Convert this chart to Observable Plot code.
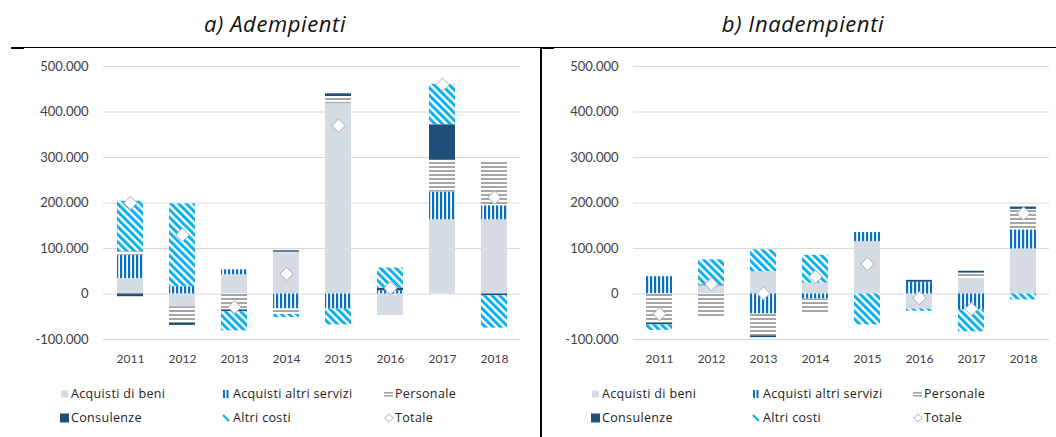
<!DOCTYPE html>
<html>
<head>
<meta charset="utf-8">
<script src="https://cdn.jsdelivr.net/npm/d3@7"></script>
<script src="https://cdn.jsdelivr.net/npm/@observablehq/plot@0.6"></script>
<style>
  html, body { margin: 0; padding: 0; background: #fff; }
  #root { position: relative; width: 1056px; height: 437px; overflow: hidden; font-family: Lato, "Open Sans", sans-serif; color: #404040; }
  .title { position: absolute; top: 8px; font-family: "Open Sans", sans-serif; font-style: italic; font-size: 22px; letter-spacing: 0.6px; color: #111; white-space: nowrap; transform: translateX(-50%); }
  .hline { position: absolute; left: 11px; top: 47px; width: 1045px; height: 1px; background: #000; }
  .vline { position: absolute; left: 540px; top: 47px; width: 1.5px; height: 390px; background: #000; }
  .tick1 { position: absolute; height: 2px; width: 13px; background: #000; top: 47px; }
  .plot { position: absolute; top: 50px; }
  .leg { position: absolute; font-family: "Open Sans", sans-serif; font-size: 12.5px; letter-spacing: 0.35px; color: #222; white-space: nowrap; transform: translateY(-50%); line-height: 1; }
  .sw { position: absolute; line-height: 0; }
  .sw svg { display: block; }
</style>
</head>
<body>
<svg width="0" height="0" style="position:absolute">
  <defs>
    <pattern id="pServizi" patternUnits="userSpaceOnUse" width="4" height="4">
      <rect width="4" height="4" fill="#fff"/>
      <rect x="0" width="2.2" height="4" fill="#0A6EC2"/>
    </pattern>
    <pattern id="pPersonale" patternUnits="userSpaceOnUse" width="4" height="4">
      <rect width="4" height="4" fill="#fff"/>
      <rect y="0" width="4" height="2" fill="#A6A6A6"/>
    </pattern>
    <pattern id="pAltri" patternUnits="userSpaceOnUse" width="5.4" height="5.4" patternTransform="rotate(-45)">
      <rect width="5.4" height="5.4" fill="#fff"/>
      <rect x="0" width="3" height="5.4" fill="#0AB0EE"/>
    </pattern>
  </defs>
</svg>
<div id="root"></div>
<script>
// ---- data ----
const years = ["2011", "2012", "2013", "2014", "2015", "2016", "2017", "2018"];
const seriesNames = ["Acquisti di beni", "Acquisti altri servizi", "Personale", "Consulenze", "Altri costi"];
const totaleName = "Totale";

// a) Adempienti
const adBeni       = [34000, -28000, 42000, 92000, 418000, -45000, 163000, 163000];
const adServizi    = [51000, 16000, 11000, -33000, -33000, 7000, 61000, 31000];
const adPersonale  = [8000, -36000, -35000, -12000, 16000, -1000, 70000, 95000];
const adConsulenze = [-6000, -5000, -4000, 3000, 6000, 6000, 78000, -4000];
const adAltri      = [111000, 182000, -42000, -7000, -35000, 44000, 89000, -71000];
const adTotale     = [200000, 130000, -29000, 44000, 370000, 13000, 460000, 212000];

// b) Inadempienti
const inBeni       = [0, 18000, 49000, 24000, 115000, -33000, 34000, 99000];
const inServizi    = [38000, 0, -44000, -11000, 20000, 26000, -35000, 42000];
const inPersonale  = [-64000, -51000, -48000, -31000, 0, 0, 12000, 45000];
const inConsulenze = [-4000, 2000, -4000, 0, 0, 4000, 4000, 5000];
const inAltri      = [-12000, 55000, 48000, 61000, -68000, -5000, -48000, -13000];
const inTotale     = [-44000, 22000, 1500, 38000, 66000, -9000, -33000, 177000];

const yTicks = [-100000, 0, 100000, 200000, 300000, 400000, 500000];
const titles = ["a) Adempienti", "b) Inadempienti"];

// ---- styles ----
const fills = ["#D6DCE4", "url(#pServizi)", "url(#pPersonale)", "#1F4E79", "url(#pAltri)"];
const itFormat = d3.formatLocale({decimal: ",", thousands: ".", grouping: [3], currency: ["", "€"], minus: "-"}).format(",");

function buildRows(arrs) {
  const rows = [];
  years.forEach((yr, i) => {
    arrs.forEach((a, s) => rows.push({year: yr, series: seriesNames[s], value: a[i]}));
  });
  return rows;
}

function makeChart(arrs, tot, width, marginRight) {
  const rows = buildRows(arrs);
  const totRows = years.map((yr, i) => ({year: yr, value: tot[i]}));
  return Plot.plot({
    width: width,
    height: 320,
    marginTop: 16,
    marginBottom: 31,
    marginLeft: 103,
    marginRight: marginRight,
    style: {fontFamily: "Lato, 'Open Sans', sans-serif", fontSize: "13px", color: "#404040", background: "transparent", overflow: "visible"},
    x: {domain: years, paddingInner: 0.5, paddingOuter: 0.25, label: null},
    y: {domain: [-100000, 500000], label: null},
    color: {domain: seriesNames, range: fills},
    marks: [
      Plot.ruleY(yTicks, {stroke: "#D9D9D9", strokeWidth: 1}),
      Plot.barY(rows, {x: "year", y: "value", fill: "series", inset: 0}),
      Plot.dot(totRows, {x: "year", y: "value", symbol: "diamond2", r: 6, fill: "#fff", stroke: "#A9AEB8", strokeWidth: 1}),
      Plot.axisY({ticks: yTicks, tickFormat: itFormat, tickSize: 0, tickPadding: 15, fontSize: 13, label: null}),
      Plot.axisX({tickSize: 0, tickPadding: 15, fontSize: 12, label: null})
    ]
  });
}

const root = document.getElementById("root");

function addDiv(cls, style, text) {
  const d = document.createElement("div");
  d.className = cls;
  Object.assign(d.style, style);
  if (text != null) d.textContent = text;
  root.appendChild(d);
  return d;
}

addDiv("title", {left: "275px"}, titles[0]);
addDiv("title", {left: "803px"}, titles[1]);
addDiv("hline", {});
addDiv("tick1", {left: "11px"});
addDiv("tick1", {left: "541px"});
addDiv("vline", {});

const left = addDiv("plot", {left: "0px"});
left.appendChild(makeChart([adBeni, adServizi, adPersonale, adConsulenze, adAltri], adTotale, 530, 10));
const right = addDiv("plot", {left: "530px"});
right.appendChild(makeChart([inBeni, inServizi, inPersonale, inConsulenze, inAltri], inTotale, 526, 7));

// ---- legends ----
const swatchSvg = {
  "Acquisti di beni": '<svg width="10" height="10"><rect x="1" y="1.5" width="7" height="7" fill="#D6DCE4"/></svg>',
  "Acquisti altri servizi": '<svg width="10" height="10"><rect x="1" y="1" width="2" height="8" fill="#0A6EC2"/><rect x="4.5" y="1" width="2" height="8" fill="#0A6EC2"/></svg>',
  "Personale": '<svg width="10" height="10"><rect x="0" y="3" width="9" height="1.6" fill="#A6A6A6"/><rect x="0" y="6" width="9" height="1.6" fill="#A6A6A6"/></svg>',
  "Consulenze": '<svg width="10" height="10"><rect x="0" y="0.5" width="9" height="9" fill="#1F4E79"/></svg>',
  "Altri costi": '<svg width="10" height="10"><line x1="1" y1="2" x2="7" y2="8" stroke="#0AB0EE" stroke-width="2.2"/></svg>',
  "Totale": '<svg width="10" height="10"><path d="M5,0.8 L9.2,5 L5,9.2 L0.8,5 Z" fill="#fff" stroke="#A9AEB8" stroke-width="1"/></svg>'
};
const legendOrder = [...seriesNames.slice(0, 3), seriesNames[3], seriesNames[4], totaleName];
const legCols = [[60, 222, 384], [591, 752, 913]];
const legRows = [394, 418];
legCols.forEach(cols => {
  legendOrder.forEach((name, k) => {
    const r = Math.floor(k / 3), c = k % 3;
    const x = cols[c], y = legRows[r];
    const sw = addDiv("sw", {left: x + "px", top: (y - 5) + "px"});
    sw.innerHTML = swatchSvg[name];
    addDiv("leg", {left: (x + 11) + "px", top: y + "px"}, name);
  });
});
</script>
</body>
</html>
